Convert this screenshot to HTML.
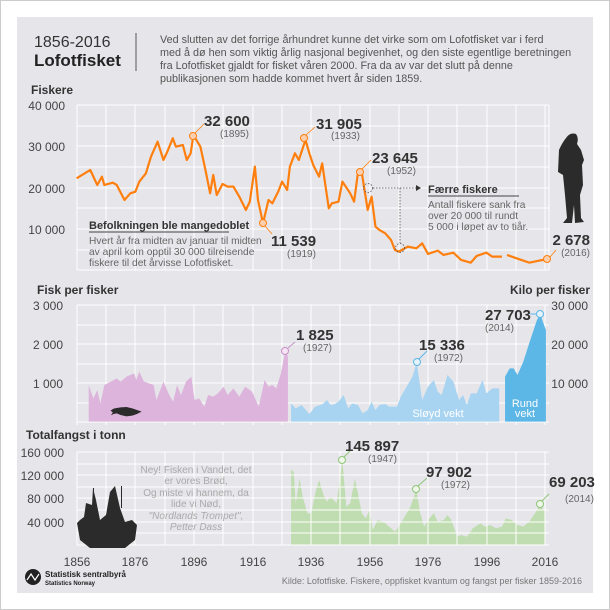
<!DOCTYPE html>
<html><head><meta charset="utf-8"><style>
html,body{margin:0;padding:0;background:#fff;}
svg{display:block;font-family:"Liberation Sans",sans-serif;}
</style></head><body>
<svg width="610" height="610" viewBox="0 0 610 610" xmlns="http://www.w3.org/2000/svg">
<rect x="0.5" y="0.5" width="609" height="609" fill="#fff" stroke="#ccc"/>
<rect x="17" y="17" width="576" height="576" fill="#e6e6ea"/>
<text x="34" y="47" font-size="16" fill="#333">1856-2016</text>
<text x="34" y="66" font-size="17" font-weight="bold" fill="#222">Lofotfisket</text>
<line x1="136" y1="33" x2="136" y2="71" stroke="#555" stroke-width="1"/>
<g font-size="10.8" fill="#555">
<text x="160" y="43">Ved slutten av det forrige århundret kunne det virke som om Lofotfisket var i ferd</text>
<text x="160" y="56">med å dø hen som viktig årlig nasjonal begivenhet, og den siste egentlige beretningen</text>
<text x="160" y="69">fra Lofotfisket gjaldt for fisket våren 2000. Fra da av var det slutt på denne</text>
<text x="160" y="82">publikasjonen som hadde kommet hvert år siden 1859.</text>
</g>
<text x="31" y="94" font-size="12" font-weight="bold" fill="#333">Fiskere</text>
<g stroke="#fff" stroke-width="1">
<line x1="77" y1="105" x2="549" y2="105"/><line x1="77" y1="126" x2="549" y2="126"/><line x1="77" y1="146" x2="549" y2="146"/><line x1="77" y1="167" x2="549" y2="167"/><line x1="77" y1="188" x2="549" y2="188"/><line x1="77" y1="208" x2="549" y2="208"/><line x1="77" y1="229" x2="549" y2="229"/><line x1="77" y1="250" x2="549" y2="250"/><line x1="77" y1="270" x2="549" y2="270"/>
<line x1="77" y1="105" x2="77" y2="270"/><line x1="106" y1="105" x2="106" y2="270"/><line x1="135" y1="105" x2="135" y2="270"/><line x1="165" y1="105" x2="165" y2="270"/><line x1="194" y1="105" x2="194" y2="270"/><line x1="223" y1="105" x2="223" y2="270"/><line x1="253" y1="105" x2="253" y2="270"/><line x1="282" y1="105" x2="282" y2="270"/><line x1="311" y1="105" x2="311" y2="270"/><line x1="340" y1="105" x2="340" y2="270"/><line x1="370" y1="105" x2="370" y2="270"/><line x1="399" y1="105" x2="399" y2="270"/><line x1="428" y1="105" x2="428" y2="270"/><line x1="457" y1="105" x2="457" y2="270"/><line x1="487" y1="105" x2="487" y2="270"/><line x1="516" y1="105" x2="516" y2="270"/><line x1="545" y1="105" x2="545" y2="270"/><line x1="549" y1="105" x2="549" y2="270"/>
</g>
<g font-size="12" fill="#444" text-anchor="end">
<text x="65" y="110">40 000</text><text x="65" y="151">30 000</text><text x="65" y="193">20 000</text><text x="65" y="234">10 000</text>
</g>
<g transform="scale(0.3891,0.3333)">
<polyline fill="none" stroke="#ff7f0e" stroke-width="2.2" vector-effect="non-scaling-stroke" stroke-linejoin="round" points="197,535 232,510 250,555 262,530 268,555 290,548 300,555 320,600 335,580 348,575 358,545 375,520 388,470 405,425 420,480 430,455 444,415 452,440 470,435 480,480 490,460 497,405 515,440 528,510 540,580 548,525 557,585 572,552 585,560 600,560 615,590 632,630 642,605 655,500 663,600 676,670 690,600 700,610 715,575 725,545 738,570 745,500 758,460 768,480 785,420 795,460 805,495 820,530 828,490 845,625 853,610 870,605 880,545 900,580 910,605 920,518 930,520 945,630 955,590 965,680 975,690 990,700 1005,720 1015,750 1025,755 1048,740 1070,745 1085,730 1100,762 1125,752 1140,765 1165,758 1185,780 1210,788 1225,768 1250,758 1265,770 1290,770"/>
<polyline fill="none" stroke="#ff7f0e" stroke-width="2.2" vector-effect="non-scaling-stroke" stroke-linejoin="round" points="1303,765 1335,778 1360,788 1385,782 1407,778"/>
</g>
<g fill="#fbd0b0" stroke="#ff7f0e" stroke-width="1">
<circle cx="193" cy="136" r="3.5"/><circle cx="304" cy="138" r="3.5"/><circle cx="360" cy="172" r="3.5"/><circle cx="263" cy="223" r="3.5"/><circle cx="547" cy="259" r="3.5"/>
</g>
<g stroke="#ff7f0e" stroke-width="0.8">
<line x1="195" y1="133" x2="204" y2="124"/><line x1="306" y1="135" x2="315" y2="127"/><line x1="362" y1="169" x2="371" y2="160"/><line x1="265" y1="226" x2="272" y2="234"/><line x1="550" y1="257" x2="556" y2="250"/>
</g>
<g font-size="15" font-weight="bold" fill="#333">
<text x="204" y="126">32 600</text><text x="316" y="129">31 905</text><text x="372" y="163">23 645</text><text x="271" y="246">11 539</text><text x="590" y="245" text-anchor="end">2 678</text>
</g>
<g font-size="10" fill="#666">
<text x="220" y="137">(1895)</text><text x="331" y="139">(1933)</text><text x="387" y="174">(1952)</text><text x="287" y="257">(1919)</text><text x="590" y="256" text-anchor="end">(2016)</text>
</g>
<g stroke="#555" stroke-width="0.8" stroke-dasharray="1.5,1.5" fill="none">
<circle cx="368" cy="188" r="4.5"/><circle cx="400" cy="248" r="4.5"/>
<line x1="373" y1="188" x2="416" y2="188"/><line x1="400" y1="188" x2="400" y2="243"/>
</g>
<polygon points="416,185 421,188 416,191" fill="#333"/>
<text x="428" y="193" font-size="11" font-weight="bold" fill="#333">Færre fiskere</text>
<line x1="428" y1="196" x2="519" y2="196" stroke="#444" stroke-width="1"/>
<g font-size="10.2" fill="#666"><text x="428" y="208">Antall fiskere sank fra</text><text x="428" y="219">over 20 000 til rundt</text><text x="428" y="230">5 000 i løpet av to tiår.</text></g>
<text x="89" y="229" font-size="11" font-weight="bold" fill="#333">Befolkningen ble mangedoblet</text>
<line x1="89" y1="232" x2="229" y2="232" stroke="#444" stroke-width="1"/>
<g font-size="10.2" fill="#666"><text x="89" y="244">Hvert år fra midten av januar til midten</text><text x="89" y="255">av april kom opptil 30 000 tilreisende</text><text x="89" y="266">fiskere til det årvisse Lofotfisket.</text></g>
<path d="M566,138 Q570,132 576,134 Q579,138 577,144 L581,150 L584,160 L582,165 L583,185 L580,195 L581,218 L584,222 L575,223 L574,205 L572,223 L563,223 L567,218 L565,195 L563,175 L558,172 L559,150 Q562,143 566,138Z" fill="#2b2b2b"/>
<text x="37" y="294" font-size="12" font-weight="bold" fill="#333">Fisk per fisker</text>
<text x="590" y="294" font-size="12" font-weight="bold" fill="#333" text-anchor="end">Kilo per fisker</text>
<g stroke="#fff" stroke-width="1">
<line x1="77" y1="305" x2="549" y2="305"/><line x1="77" y1="325" x2="549" y2="325"/><line x1="77" y1="344" x2="549" y2="344"/><line x1="77" y1="364" x2="549" y2="364"/><line x1="77" y1="383" x2="549" y2="383"/><line x1="77" y1="403" x2="549" y2="403"/><line x1="77" y1="422" x2="549" y2="422"/>
<line x1="77" y1="305" x2="77" y2="425"/><line x1="106" y1="305" x2="106" y2="425"/><line x1="135" y1="305" x2="135" y2="425"/><line x1="165" y1="305" x2="165" y2="425"/><line x1="194" y1="305" x2="194" y2="425"/><line x1="223" y1="305" x2="223" y2="425"/><line x1="253" y1="305" x2="253" y2="425"/><line x1="282" y1="305" x2="282" y2="425"/><line x1="311" y1="305" x2="311" y2="425"/><line x1="340" y1="305" x2="340" y2="425"/><line x1="370" y1="305" x2="370" y2="425"/><line x1="399" y1="305" x2="399" y2="425"/><line x1="428" y1="305" x2="428" y2="425"/><line x1="457" y1="305" x2="457" y2="425"/><line x1="487" y1="305" x2="487" y2="425"/><line x1="516" y1="305" x2="516" y2="425"/><line x1="545" y1="305" x2="545" y2="425"/>
</g>
<g font-size="12" fill="#444" text-anchor="end"><text x="63" y="310">3 000</text><text x="63" y="349">2 000</text><text x="63" y="388">1 000</text></g>
<g font-size="12" fill="#444" text-anchor="end"><text x="588" y="310">30 000</text><text x="588" y="349">20 000</text><text x="588" y="388">10 000</text></g>
<g transform="translate(0,280) scale(0.3891,0.3333)">
<polygon fill="#ddb5dc" points="228,425 228,315 240,355 250,330 258,370 268,315 285,305 300,295 310,305 325,290 345,280 350,300 358,275 370,305 395,315 402,360 420,305 435,345 445,365 455,315 465,345 478,305 492,290 500,360 512,355 525,380 535,345 548,350 560,340 575,320 585,345 600,325 615,350 630,320 648,335 665,380 680,300 690,320 700,315 710,325 722,280 733,213 740,230 740,425"/>
<polygon fill="#a8d4f2" points="748,425 748,370 760,385 775,375 795,402 810,380 830,372 840,360 850,375 860,372 870,365 883,345 895,385 905,370 920,375 932,400 945,390 955,365 965,390 975,375 990,372 1000,380 1020,380 1030,350 1050,310 1060,290 1071,247 1085,360 1100,320 1115,300 1125,335 1135,345 1150,285 1165,305 1180,360 1190,345 1200,375 1210,340 1225,340 1240,300 1250,340 1265,325 1283,325 1283,425"/>
<polygon fill="#5cb6e6" points="1298,425 1298,290 1310,265 1320,265 1330,285 1345,245 1360,190 1370,155 1380,120 1389,103 1395,125 1403,150 1403,425"/>
<polygon fill="#2b2b2b" points="284,392 292,386 300,384 310,382 325,381 340,385 352,390 364,395 352,402 340,407 325,409 310,405 300,400 292,402 285,406 290,397"/>
<polygon fill="#c0ddb1" points="748,795 748,570 755,575 760,670 770,595 778,650 790,700 800,700 810,640 820,600 830,640 840,665 850,650 865,670 880,540 890,680 900,670 912,595 920,640 930,700 940,715 950,690 958,750 970,720 985,725 1000,740 1015,755 1025,740 1040,710 1055,680 1070,627 1080,700 1090,740 1100,720 1115,700 1125,725 1140,720 1150,705 1160,720 1175,770 1185,765 1200,770 1215,745 1235,730 1245,740 1260,735 1275,745 1290,740 1300,715 1315,720 1330,735 1345,740 1360,725 1375,700 1389,672 1400,695 1400,795"/>
</g>
<g stroke-width="1">
<circle cx="285" cy="351" r="3.5" fill="#f5e4f4" stroke="#c890c8"/><line x1="288" y1="348" x2="295" y2="342" stroke="#c890c8"/>
<circle cx="417" cy="362" r="3.5" fill="#e4f2fc" stroke="#5cb6e6"/><line x1="419" y1="359" x2="427" y2="351" stroke="#5cb6e6"/>
<circle cx="540" cy="314" r="3.5" fill="#e4f2fc" stroke="#5cb6e6"/><line x1="530" y1="314" x2="536" y2="314" stroke="#5cb6e6"/>
</g>
<g font-size="15" font-weight="bold" fill="#333"><text x="296" y="340">1 825</text><text x="419" y="350">15 336</text><text x="485" y="320">27 703</text></g>
<g font-size="10" fill="#666"><text x="303" y="351">(1927)</text><text x="434" y="361">(1972)</text><text x="485" y="331">(2014)</text></g>
<g font-size="11" fill="#fff" text-anchor="middle"><text x="438" y="417">Sløyd vekt</text><text x="525" y="407">Rund</text><text x="525" y="417">vekt</text></g>
<text x="26" y="439" font-size="12" font-weight="bold" fill="#333">Totalfangst i tonn</text>
<g stroke="#fff" stroke-width="1">
<line x1="77" y1="452" x2="549" y2="452"/><line x1="77" y1="464" x2="549" y2="464"/><line x1="77" y1="475" x2="549" y2="475"/><line x1="77" y1="487" x2="549" y2="487"/><line x1="77" y1="498" x2="549" y2="498"/><line x1="77" y1="510" x2="549" y2="510"/><line x1="77" y1="522" x2="549" y2="522"/><line x1="77" y1="533" x2="549" y2="533"/><line x1="77" y1="545" x2="549" y2="545"/>
<line x1="77" y1="452" x2="77" y2="545"/><line x1="106" y1="452" x2="106" y2="545"/><line x1="135" y1="452" x2="135" y2="545"/><line x1="165" y1="452" x2="165" y2="545"/><line x1="194" y1="452" x2="194" y2="545"/><line x1="223" y1="452" x2="223" y2="545"/><line x1="253" y1="452" x2="253" y2="545"/><line x1="282" y1="452" x2="282" y2="545"/><line x1="311" y1="452" x2="311" y2="545"/><line x1="340" y1="452" x2="340" y2="545"/><line x1="370" y1="452" x2="370" y2="545"/><line x1="399" y1="452" x2="399" y2="545"/><line x1="428" y1="452" x2="428" y2="545"/><line x1="457" y1="452" x2="457" y2="545"/><line x1="487" y1="452" x2="487" y2="545"/><line x1="516" y1="452" x2="516" y2="545"/><line x1="545" y1="452" x2="545" y2="545"/>
</g>
<g font-size="12" fill="#444" text-anchor="end"><text x="64" y="457">160 000</text><text x="64" y="480">120 000</text><text x="64" y="503">80 000</text><text x="64" y="527">40 000</text></g>
<g font-size="12" fill="#444" text-anchor="middle"><text x="77" y="566">1856</text><text x="135" y="566">1876</text><text x="194" y="566">1896</text><text x="253" y="566">1916</text><text x="311" y="566">1936</text><text x="370" y="566">1956</text><text x="428" y="566">1976</text><text x="487" y="566">1996</text><text x="545" y="566">2016</text></g>
<g stroke-width="1">
<circle cx="342" cy="460" r="3.5" fill="#eef7e8" stroke="#8fc47a"/><line x1="344" y1="457" x2="350" y2="451" stroke="#8fc47a"/>
<circle cx="416" cy="489" r="3.5" fill="#eef7e8" stroke="#8fc47a"/><line x1="418" y1="486" x2="427" y2="478" stroke="#8fc47a"/>
<circle cx="540" cy="504" r="3.5" fill="#eef7e8" stroke="#8fc47a"/><line x1="542" y1="501" x2="549" y2="494" stroke="#8fc47a"/>
</g>
<g font-size="15" font-weight="bold" fill="#333"><text x="345" y="451">145 897</text><text x="426" y="477">97 902</text><text x="549" y="487">69 203</text></g>
<g font-size="10" fill="#666"><text x="368" y="462">(1947)</text><text x="441" y="488">(1972)</text><text x="565" y="502">(2014)</text></g>
<g font-size="10" fill="#aaa" text-anchor="middle">
<text x="196" y="473">Ney! Fisken i Vandet, det</text><text x="196" y="484">er vores Brød,</text><text x="196" y="496">Og miste vi hannem, da</text><text x="196" y="507">lide vi Nød,</text>
<text x="196" y="519" font-style="italic">"Nordlands Trompet",</text><text x="196" y="530" font-style="italic">Petter Dass</text></g>
<g fill="#2b2b2b">
<polygon points="77,523 80,540 90,548 125,548 135,540 137,525 132,520 125,522 120,508 115,486 110,492 106,515 100,520 96,500 93,488 92,505 86,503 84,517 80,520"/>
<rect x="93" y="488" width="1" height="20"/><rect x="121" y="486" width="1" height="22"/>
</g>
<circle cx="33" cy="577" r="8" fill="#222"/>
<polyline points="27,580 31,574 35,580 39,574" fill="none" stroke="#fff" stroke-width="1.2"/>
<text x="45" y="577" font-size="8" font-weight="bold" fill="#222">Statistisk sentralbyrå</text>
<text x="45" y="585" font-size="6" font-weight="bold" fill="#222">Statistics Norway</text>
<text x="582" y="584" font-size="9" fill="#777" text-anchor="end">Kilde: Lofotfiske. Fiskere, oppfisket kvantum og fangst per fisker 1859-2016</text>
</svg>
</body></html>
